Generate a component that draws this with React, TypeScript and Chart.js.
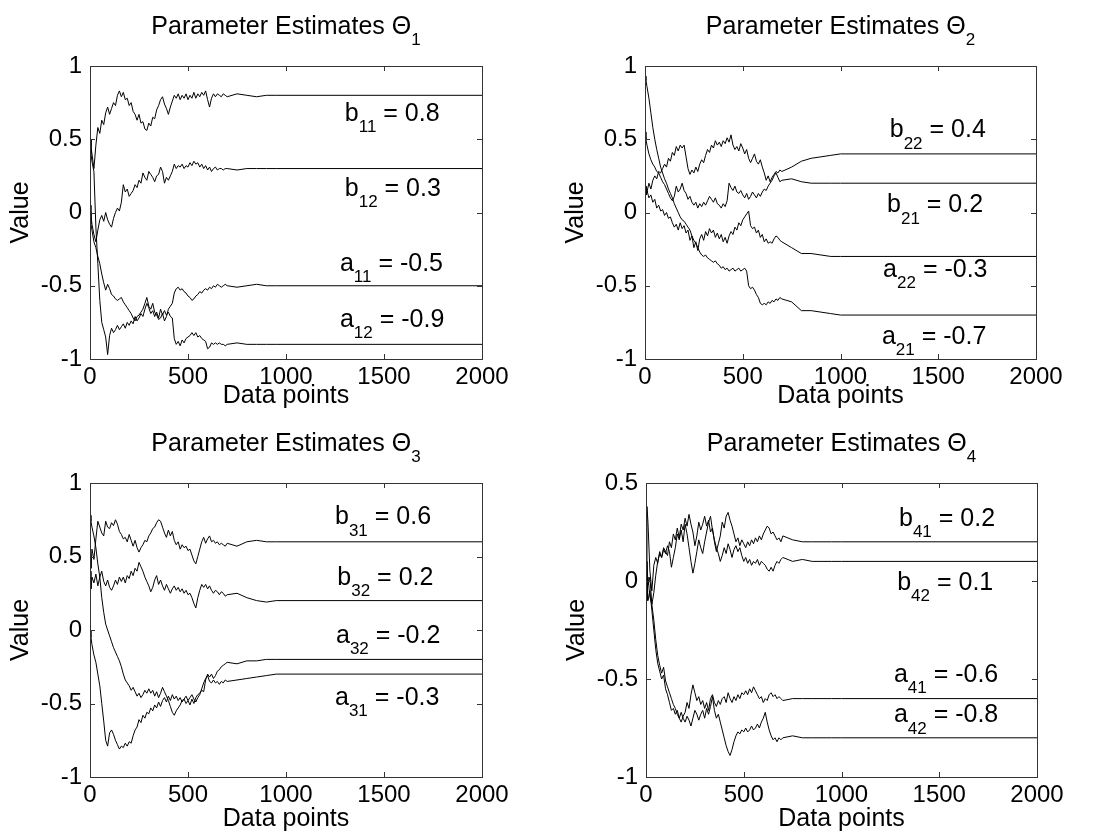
import React, { useEffect, useRef } from "react";
import { Chart, registerables } from "chart.js";
Chart.register(...registerables);

// ---------- data ----------
const X = [
  0, 5, 10, 20, 30, 40, 50, 60, 70, 80,
  90, 100, 110, 120, 130, 140, 150, 160, 170, 180,
  190, 200, 210, 220, 230, 240, 250, 260, 270, 280,
  290, 300, 310, 320, 330, 340, 350, 360, 370, 380,
  390, 400, 410, 420, 430, 440, 450, 460, 470, 480,
  490, 500, 510, 520, 530, 540, 550, 560, 570, 580,
  590, 600, 610, 620, 630, 640, 650, 660, 670, 680,
  690, 700, 750, 800, 850, 900, 950, 1000, 2000,
];

// Theta 1
const B11 = [
  0.50, 0.45, 0.40, 0.30, 0.46, 0.58, 0.54, 0.63, 0.60, 0.68,
  0.72, 0.67, 0.71, 0.75, 0.73, 0.80, 0.83, 0.79, 0.82, 0.77,
  0.78, 0.73, 0.75, 0.69, 0.67, 0.63, 0.67, 0.61, 0.62, 0.57,
  0.56, 0.61, 0.59, 0.65, 0.64, 0.70, 0.73, 0.77, 0.79, 0.74,
  0.71, 0.67, 0.72, 0.76, 0.80, 0.78, 0.81, 0.77, 0.80, 0.78,
  0.81, 0.77, 0.80, 0.78, 0.82, 0.78, 0.81, 0.79, 0.82, 0.80,
  0.83, 0.77, 0.72, 0.78, 0.81, 0.79, 0.81, 0.80, 0.79, 0.81,
  0.80, 0.79, 0.81, 0.80, 0.79, 0.80, 0.80, 0.80, 0.80,
];
const B12 = [
  0.05, -0.02, -0.08, -0.15, -0.20, -0.12, -0.05, -0.02, -0.06, 0.00,
  -0.05, -0.08, -0.10, -0.04, 0.00, 0.03, 0.01, 0.07, 0.19, 0.14,
  0.16, 0.11, 0.13, 0.15, 0.19, 0.17, 0.22, 0.20, 0.27, 0.24,
  0.22, 0.28, 0.26, 0.24, 0.21, 0.25, 0.26, 0.31, 0.28, 0.20,
  0.24, 0.22, 0.25, 0.28, 0.33, 0.30, 0.32, 0.31, 0.33, 0.30,
  0.32, 0.31, 0.34, 0.32, 0.35, 0.33, 0.34, 0.31, 0.33, 0.30,
  0.32, 0.29, 0.31, 0.28, 0.30, 0.31, 0.29, 0.30, 0.30, 0.29,
  0.30, 0.30, 0.29, 0.30, 0.30, 0.30, 0.30, 0.30, 0.30,
];
const A11 = [
  0.00, -0.08, -0.12, -0.20, -0.24, -0.30, -0.35, -0.42, -0.48, -0.53,
  -0.49, -0.52, -0.56, -0.57, -0.59, -0.60, -0.59, -0.58, -0.61, -0.63,
  -0.65, -0.67, -0.69, -0.72, -0.74, -0.71, -0.70, -0.68, -0.66, -0.62,
  -0.58, -0.64, -0.66, -0.62, -0.68, -0.70, -0.73, -0.72, -0.69, -0.74,
  -0.71, -0.66, -0.64, -0.62, -0.55, -0.52, -0.51, -0.53, -0.52, -0.54,
  -0.55, -0.57, -0.58, -0.60, -0.59, -0.57, -0.56, -0.54, -0.55, -0.53,
  -0.52, -0.53, -0.51, -0.52, -0.50, -0.51, -0.49, -0.50, -0.51, -0.50,
  -0.49, -0.50, -0.51, -0.50, -0.49, -0.50, -0.50, -0.50, -0.50,
];
const A12 = [
  0.50, 0.40, 0.35, 0.28, -0.10, -0.35, -0.60, -0.75, -0.80, -0.85,
  -0.97, -0.84, -0.79, -0.82, -0.80, -0.77, -0.80, -0.78, -0.76, -0.79,
  -0.75, -0.77, -0.74, -0.76, -0.71, -0.74, -0.72, -0.69, -0.71, -0.66,
  -0.62, -0.65, -0.69, -0.67, -0.71, -0.68, -0.72, -0.66, -0.70, -0.67,
  -0.70, -0.68, -0.71, -0.72, -0.86, -0.90, -0.88, -0.91, -0.87, -0.89,
  -0.86, -0.85, -0.84, -0.82, -0.84, -0.82, -0.85, -0.84, -0.86, -0.87,
  -0.88, -0.93, -0.92, -0.89, -0.90, -0.89, -0.90, -0.89, -0.90, -0.90,
  -0.91, -0.90, -0.89, -0.90, -0.90, -0.90, -0.90, -0.90, -0.90,
];

// Theta 2
const A21 = [
  0.93, 0.90, 0.86, 0.78, 0.68, 0.58, 0.50, 0.43, 0.37, 0.31,
  0.27, 0.23, 0.20, 0.16, 0.13, 0.10, 0.06, 0.03, 0.00, -0.03,
  -0.05, -0.06, -0.08, -0.10, -0.12, -0.16, -0.19, -0.21, -0.24, -0.27,
  -0.29, -0.30, -0.29, -0.31, -0.32, -0.33, -0.34, -0.33, -0.35, -0.36,
  -0.38, -0.37, -0.39, -0.38, -0.40, -0.39, -0.38, -0.40, -0.39, -0.38,
  -0.40, -0.39, -0.38, -0.40, -0.50, -0.52, -0.51, -0.53, -0.56, -0.58,
  -0.62, -0.63, -0.62, -0.63, -0.61, -0.62, -0.60, -0.61, -0.59, -0.60,
  -0.58, -0.59, -0.61, -0.67, -0.67, -0.68, -0.69, -0.70, -0.70,
];
const A22 = [
  0.18, 0.12, 0.15, 0.10, 0.12, 0.07, 0.09, 0.03, 0.05, 0.01,
  0.02, -0.02, 0.00, -0.04, -0.03, -0.07, -0.10, -0.08, -0.12, -0.07,
  -0.11, -0.09, -0.14, -0.12, -0.19, -0.16, -0.24, -0.20, -0.26, -0.18,
  -0.15, -0.19, -0.13, -0.16, -0.11, -0.14, -0.12, -0.17, -0.14, -0.18,
  -0.15, -0.20, -0.17, -0.21, -0.16, -0.13, -0.15, -0.10, -0.12, -0.07,
  -0.09, -0.05, -0.03, -0.01, 0.01, -0.09, -0.11, -0.10, -0.14, -0.12,
  -0.17, -0.15, -0.20, -0.18, -0.21, -0.20, -0.21, -0.18, -0.16, -0.17,
  -0.19, -0.20, -0.24, -0.28, -0.28, -0.29, -0.30, -0.30, -0.30,
];
const B21 = [
  0.55, 0.50, 0.46, 0.40, 0.36, 0.33, 0.31, 0.28, 0.27, 0.24,
  0.21, 0.19, 0.16, 0.13, 0.10, 0.08, 0.11, 0.18, 0.14, 0.16,
  0.20, 0.15, 0.13, 0.09, 0.11, 0.07, 0.05, 0.07, 0.03, 0.06,
  0.04, 0.07, 0.05, 0.08, 0.11, 0.09, 0.07, 0.10, 0.06, 0.05,
  0.03, 0.06, 0.04, 0.08, 0.20, 0.17, 0.15, 0.18, 0.14, 0.13,
  0.15, 0.12, 0.10, 0.13, 0.09, 0.11, 0.14, 0.12, 0.10, 0.13,
  0.11, 0.14, 0.16, 0.15, 0.18, 0.20, 0.22, 0.25, 0.27, 0.24,
  0.21, 0.22, 0.23, 0.21, 0.20, 0.20, 0.20, 0.20, 0.20,
];
const B22 = [
  0.12, 0.18, 0.14, 0.20, 0.16, 0.22, 0.25, 0.23, 0.28, 0.27,
  0.30, 0.33, 0.31, 0.37, 0.35, 0.41, 0.39, 0.45, 0.42, 0.46,
  0.44, 0.46, 0.38, 0.30, 0.26, 0.29, 0.27, 0.31, 0.28, 0.33,
  0.36, 0.34, 0.39, 0.43, 0.41, 0.46, 0.44, 0.49, 0.46, 0.48,
  0.45, 0.49, 0.47, 0.51, 0.48, 0.53, 0.46, 0.43, 0.45, 0.42,
  0.47, 0.44, 0.40, 0.43, 0.37, 0.34, 0.37, 0.40, 0.35, 0.33,
  0.36, 0.31, 0.27, 0.22, 0.25, 0.21, 0.24, 0.26, 0.28, 0.27,
  0.29, 0.28, 0.31, 0.35, 0.37, 0.38, 0.39, 0.40, 0.40,
];

// Theta 3
const B31 = [
  0.50, 0.42, 0.55, 0.48, 0.62, 0.74, 0.70, 0.66, 0.64, 0.74,
  0.70, 0.69, 0.73, 0.71, 0.75, 0.72, 0.67, 0.65, 0.62, 0.63,
  0.60, 0.65, 0.61, 0.57, 0.61, 0.56, 0.53, 0.56, 0.58, 0.61,
  0.60, 0.64, 0.66, 0.69, 0.70, 0.73, 0.75, 0.74, 0.70, 0.66,
  0.63, 0.68, 0.64, 0.67, 0.61, 0.58, 0.60, 0.55, 0.58, 0.56,
  0.57, 0.54, 0.55, 0.51, 0.47, 0.45, 0.50, 0.55, 0.60, 0.63,
  0.59, 0.62, 0.64, 0.60, 0.61, 0.59, 0.60, 0.58, 0.59, 0.58,
  0.57, 0.59, 0.57, 0.60, 0.61, 0.60, 0.60, 0.60, 0.60,
];
const B32 = [
  0.40, 0.28, 0.36, 0.32, 0.38, 0.30, 0.36, 0.40, 0.33, 0.30,
  0.34, 0.29, 0.27, 0.30, 0.34, 0.31, 0.36, 0.33, 0.36, 0.32,
  0.37, 0.35, 0.40, 0.37, 0.42, 0.40, 0.46, 0.43, 0.40, 0.36,
  0.33, 0.30, 0.26, 0.29, 0.34, 0.37, 0.31, 0.34, 0.30, 0.27,
  0.31, 0.28, 0.25, 0.28, 0.30, 0.27, 0.29, 0.26, 0.28, 0.25,
  0.27, 0.24, 0.25, 0.22, 0.18, 0.15, 0.22, 0.27, 0.31, 0.29,
  0.31, 0.28, 0.30, 0.27, 0.25, 0.27, 0.26, 0.24, 0.26, 0.25,
  0.23, 0.24, 0.25, 0.22, 0.20, 0.19, 0.20, 0.20, 0.20,
];
const A31 = [
  0.78, 0.74, 0.70, 0.64, 0.56, 0.45, 0.36, 0.22, 0.12, 0.04,
  0.00, -0.04, -0.08, -0.12, -0.15, -0.18, -0.21, -0.25, -0.30, -0.34,
  -0.36, -0.38, -0.41, -0.39, -0.42, -0.45, -0.43, -0.46, -0.44, -0.41,
  -0.43, -0.40, -0.43, -0.41, -0.45, -0.42, -0.46, -0.43, -0.39, -0.42,
  -0.45, -0.48, -0.52, -0.56, -0.58, -0.55, -0.53, -0.51, -0.48, -0.47,
  -0.45, -0.48, -0.46, -0.44, -0.47, -0.49, -0.46, -0.44, -0.40, -0.36,
  -0.33, -0.31, -0.35, -0.36, -0.34, -0.36, -0.35, -0.37, -0.35, -0.36,
  -0.34, -0.35, -0.34, -0.33, -0.32, -0.31, -0.30, -0.30, -0.30,
];
const A32 = [
  0.00, -0.05, -0.10, -0.17, -0.22, -0.30, -0.38, -0.50, -0.62, -0.75,
  -0.79, -0.70, -0.68, -0.71, -0.75, -0.78, -0.81, -0.79, -0.80, -0.77,
  -0.79, -0.76, -0.77, -0.72, -0.68, -0.66, -0.61, -0.63, -0.58, -0.60,
  -0.56, -0.57, -0.53, -0.55, -0.51, -0.53, -0.49, -0.52, -0.48, -0.46,
  -0.49, -0.45, -0.48, -0.44, -0.47, -0.45, -0.48, -0.46, -0.49, -0.47,
  -0.50, -0.48, -0.51, -0.47, -0.50, -0.46, -0.44, -0.43, -0.41, -0.42,
  -0.34, -0.30, -0.32, -0.30, -0.33, -0.31, -0.28, -0.27, -0.25, -0.24,
  -0.23, -0.22, -0.23, -0.21, -0.21, -0.20, -0.20, -0.20, -0.20,
];

// Theta 4
const B41 = [
  0.00, 0.38, 0.30, 0.05, -0.05, 0.08, 0.12, 0.09, 0.15, 0.12,
  0.17, 0.15, 0.13, 0.20, 0.17, 0.24, 0.21, 0.27, 0.22, 0.29,
  0.26, 0.32, 0.28, 0.34, 0.29, 0.25, 0.18, 0.23, 0.30, 0.26,
  0.29, 0.33, 0.28, 0.31, 0.25, 0.27, 0.20, 0.15, 0.19, 0.23,
  0.30, 0.27, 0.33, 0.35, 0.31, 0.28, 0.24, 0.20, 0.22, 0.18,
  0.21, 0.19, 0.17, 0.20, 0.18, 0.21, 0.19, 0.22, 0.20, 0.23,
  0.21, 0.24, 0.26, 0.28, 0.27, 0.24, 0.25, 0.23, 0.21, 0.22,
  0.20, 0.23, 0.21, 0.20, 0.20, 0.20, 0.20, 0.20, 0.20,
];
const B42 = [
  0.05, 0.10, -0.02, 0.02, -0.12, -0.06, 0.03, 0.10, 0.14, 0.12,
  0.16, 0.14, 0.18, 0.15, 0.07, 0.12, 0.17, 0.24, 0.21, 0.26,
  0.20, 0.29, 0.24, 0.17, 0.10, 0.04, 0.09, 0.15, 0.21, 0.17,
  0.14, 0.20, 0.25, 0.30, 0.33, 0.26, 0.21, 0.17, 0.14, 0.10,
  0.13, 0.17, 0.14, 0.19, 0.16, 0.12, 0.16, 0.18, 0.15, 0.17,
  0.13, 0.10, 0.12, 0.09, 0.11, 0.08, 0.10, 0.09, 0.11, 0.08,
  0.10, 0.09, 0.08, 0.06, 0.05, 0.07, 0.05, 0.08, 0.10, 0.09,
  0.11, 0.12, 0.10, 0.11, 0.10, 0.10, 0.10, 0.10, 0.10,
];
const A41 = [
  0.00, -0.10, 0.02, -0.08, -0.12, -0.20, -0.30, -0.38, -0.43, -0.47,
  -0.44, -0.51, -0.54, -0.57, -0.60, -0.63, -0.65, -0.68, -0.70, -0.72,
  -0.69, -0.67, -0.62, -0.65, -0.58, -0.53, -0.57, -0.61, -0.59, -0.63,
  -0.61, -0.65, -0.62, -0.66, -0.60, -0.58, -0.62, -0.64, -0.61, -0.63,
  -0.60, -0.59, -0.62, -0.57, -0.60, -0.62, -0.59, -0.61, -0.58, -0.60,
  -0.57, -0.58, -0.56, -0.58, -0.55, -0.57, -0.54, -0.56, -0.58, -0.60,
  -0.59, -0.62, -0.60, -0.61, -0.58, -0.57, -0.59, -0.58, -0.60, -0.59,
  -0.60, -0.61, -0.60, -0.60, -0.60, -0.60, -0.60, -0.60, -0.60,
];
const A42 = [
  -0.05, 0.02, -0.10, -0.05, -0.15, -0.25, -0.35, -0.42, -0.46, -0.50,
  -0.48, -0.55, -0.58, -0.62, -0.66, -0.65, -0.68, -0.66, -0.70, -0.67,
  -0.70, -0.72, -0.69, -0.71, -0.74, -0.70, -0.66, -0.68, -0.71, -0.68,
  -0.66, -0.70, -0.65, -0.68, -0.64, -0.59, -0.66, -0.70, -0.68, -0.72,
  -0.76, -0.80, -0.84, -0.87, -0.89, -0.86, -0.82, -0.79, -0.77, -0.78,
  -0.76, -0.77, -0.75, -0.77, -0.76, -0.74, -0.76, -0.75, -0.73, -0.75,
  -0.72, -0.70, -0.67, -0.72, -0.76, -0.79, -0.81, -0.80, -0.82, -0.80,
  -0.81, -0.80, -0.79, -0.80, -0.80, -0.80, -0.80, -0.80, -0.80,
];

const X_TICKS = [0, 500, 1000, 1500, 2000];
const TITLE_TEXT = "Parameter Estimates \u0398";
const TITLE_SUBS = ["1", "2", "3", "4"];
const Y_RANGES = [[-1, 1], [-1, 1], [-1, 1], [-1, 0.5]];

type Ann = { base: string; sub: string; rest: string; x: number; y: number };
const ANN1: Ann[] = [
  { base: "b", sub: "11", rest: " = 0.8", x: 1300, y: 0.686 },
  { base: "b", sub: "12", rest: " = 0.3", x: 1300, y: 0.174 },
  { base: "a", sub: "11", rest: " = -0.5", x: 1275, y: -0.338 },
  { base: "a", sub: "12", rest: " = -0.9", x: 1275, y: -0.72 },
];
const ANN2: Ann[] = [
  { base: "b", sub: "22", rest: " = 0.4", x: 1252, y: 0.575 },
  { base: "b", sub: "21", rest: " = 0.2", x: 1238, y: 0.063 },
  { base: "a", sub: "22", rest: " = -0.3", x: 1218, y: -0.38 },
  { base: "a", sub: "21", rest: " = -0.7", x: 1212, y: -0.836 },
];
const ANN3: Ann[] = [
  { base: "b", sub: "31", rest: " = 0.6", x: 1250, y: 0.78 },
  { base: "b", sub: "32", rest: " = 0.2", x: 1262, y: 0.37 },
  { base: "a", sub: "32", rest: " = -0.2", x: 1255, y: -0.026 },
  { base: "a", sub: "31", rest: " = -0.3", x: 1250, y: -0.447 },
];
const ANN4: Ann[] = [
  { base: "b", sub: "41", rest: " = 0.2", x: 1294, y: 0.327 },
  { base: "b", sub: "42", rest: " = 0.1", x: 1285, y: 0.002 },
  { base: "a", sub: "41", rest: " = -0.6", x: 1268, y: -0.469 },
  { base: "a", sub: "42", rest: " = -0.8", x: 1268, y: -0.675 },
];

const SERIES = [
  [B11, B12, A11, A12],
  [B22, B21, A22, A21],
  [B31, B32, A32, A31],
  [B41, B42, A41, A42],
];
const ANNS = [ANN1, ANN2, ANN3, ANN4];

// ---------- layout (pixels) ----------
const CW = 549;
const CH = 420;
const LAYOUT = [
  { left: 0, top: 0, l: 90, r: 482, t: 66, b: 359, xl: 37 },
  { left: 549, top: 0, l: 96, r: 487, t: 66, b: 359, xl: 37 },
  { left: 0, top: 420, l: 90, r: 482, t: 63, b: 357, xl: 42 },
  { left: 549, top: 420, l: 97, r: 488, t: 63, b: 357, xl: 42 },
];

const FONT = '"Liberation Sans", Arial, Helvetica, sans-serif';
const MAIN = 25;
const SUB = 17;

function drawSubText(
  ctx: CanvasRenderingContext2D,
  x: number,
  yc: number,
  base: string,
  sub: string,
  rest: string,
  center: boolean
) {
  ctx.font = `${MAIN}px ${FONT}`;
  const w1 = ctx.measureText(base).width;
  const w3 = ctx.measureText(rest).width;
  ctx.font = `${SUB}px ${FONT}`;
  const w2 = ctx.measureText(sub).width;
  const x0 = center ? x - (w1 + w2 + w3) / 2 : x;
  const baseline = yc + MAIN * 0.36;
  ctx.textAlign = "left";
  ctx.textBaseline = "alphabetic";
  ctx.fillStyle = "#000";
  ctx.font = `${MAIN}px ${FONT}`;
  ctx.fillText(base, x0, baseline);
  ctx.font = `${SUB}px ${FONT}`;
  ctx.fillText(sub, x0 + w1, baseline + MAIN * 0.45);
  ctx.font = `${MAIN}px ${FONT}`;
  ctx.fillText(rest, x0 + w1 + w2, baseline);
}

function makePlugin(idx: number) {
  return {
    id: "matlabDecor" + idx,
    afterDraw(chart: any) {
      const { ctx, chartArea: ca } = chart;
      const xs = chart.scales.x;
      const ys = chart.scales.y;
      const L = LAYOUT[idx];
      ctx.save();
      // box
      ctx.strokeStyle = "#333";
      ctx.lineWidth = 1;
      ctx.strokeRect(ca.left + 0.5, ca.top + 0.5, ca.right - ca.left, ca.bottom - ca.top);
      // inward ticks
      const TL = 5;
      ctx.beginPath();
      xs.ticks.forEach((t: any, i: number) => {
        if (i === 0 || i === xs.ticks.length - 1) return;
        const px = Math.round(xs.getPixelForValue(t.value)) + 0.5;
        ctx.moveTo(px, ca.bottom);
        ctx.lineTo(px, ca.bottom - TL);
        ctx.moveTo(px, ca.top);
        ctx.lineTo(px, ca.top + TL);
      });
      ys.ticks.forEach((t: any, i: number) => {
        if (i === 0 || i === ys.ticks.length - 1) return;
        const py = Math.round(ys.getPixelForValue(t.value)) + 0.5;
        ctx.moveTo(ca.left, py);
        ctx.lineTo(ca.left + TL, py);
        ctx.moveTo(ca.right, py);
        ctx.lineTo(ca.right - TL, py);
      });
      ctx.stroke();

      const cx = (ca.left + ca.right) / 2;
      // title
      drawSubText(ctx, cx, ca.top - 41, TITLE_TEXT, TITLE_SUBS[idx], "", true);
      // x label
      ctx.fillStyle = "#000";
      ctx.font = `${MAIN}px ${FONT}`;
      ctx.textAlign = "center";
      ctx.textBaseline = "middle";
      ctx.fillText("Data points", cx, ca.bottom + L.xl);
      // y label
      ctx.save();
      ctx.translate(ca.left - 69, (ca.top + ca.bottom) / 2);
      ctx.rotate(-Math.PI / 2);
      ctx.fillText("Value", 0, 0);
      ctx.restore();
      // annotations
      ANNS[idx].forEach((a) => {
        drawSubText(ctx, xs.getPixelForValue(a.x), ys.getPixelForValue(a.y), a.base, a.sub, a.rest, false);
      });
      ctx.restore();
    },
  };
}

function Panel({ idx }: { idx: number }) {
  const ref = useRef<HTMLCanvasElement>(null);
  useEffect(() => {
    const L = LAYOUT[idx];
    const [ymin, ymax] = Y_RANGES[idx];
    const datasets = SERIES[idx].map((s) => ({
      data: X.map((x, i) => ({ x, y: s[i] })),
      borderColor: "#000",
      borderWidth: 1,
      pointRadius: 0,
      fill: false,
      tension: 0,
    }));
    const chart = new Chart(ref.current as HTMLCanvasElement, {
      type: "line",
      data: { datasets },
      options: {
        animation: false,
        responsive: false,
        devicePixelRatio: 1,
        events: [],
        layout: { padding: { top: L.t, right: CW - L.r, left: 0, bottom: 0 } },
        plugins: { legend: { display: false }, tooltip: { enabled: false }, title: { display: false } },
        scales: {
          x: {
            type: "linear",
            min: X_TICKS[0],
            max: X_TICKS[X_TICKS.length - 1],
            afterBuildTicks: (s: any) => {
              s.ticks = X_TICKS.map((v) => ({ value: v }));
            },
            ticks: {
              autoSkip: false,
              maxRotation: 0,
              padding: 4,
              color: "#000",
              font: { family: FONT, size: 24 },
              callback: (v: any) => String(v),
            },
            grid: { display: false, drawTicks: false },
            border: { display: false },
            afterFit: (s: any) => {
              s.height = CH - L.b;
            },
          },
          y: {
            type: "linear",
            min: ymin,
            max: ymax,
            ticks: {
              stepSize: 0.5,
              padding: 8,
              color: "#000",
              font: { family: FONT, size: 24 },
              callback: (v: any) => String(Math.round(v * 10) / 10),
            },
            grid: { display: false, drawTicks: false },
            border: { display: false },
            afterFit: (s: any) => {
              s.width = L.l;
            },
          },
        },
      },
      plugins: [makePlugin(idx)],
    } as any);
    return () => chart.destroy();
  }, [idx]);
  const L = LAYOUT[idx];
  return (
    <canvas
      ref={ref}
      width={CW}
      height={CH}
      style={{ position: "absolute", left: L.left, top: L.top, width: CW, height: CH }}
    />
  );
}

export default function App() {
  return (
    <div style={{ position: "absolute", left: 0, top: 0, width: 1098, height: 840, background: "#fff" }}>
      {[0, 1, 2, 3].map((i) => (
        <Panel key={i} idx={i} />
      ))}
    </div>
  );
}
